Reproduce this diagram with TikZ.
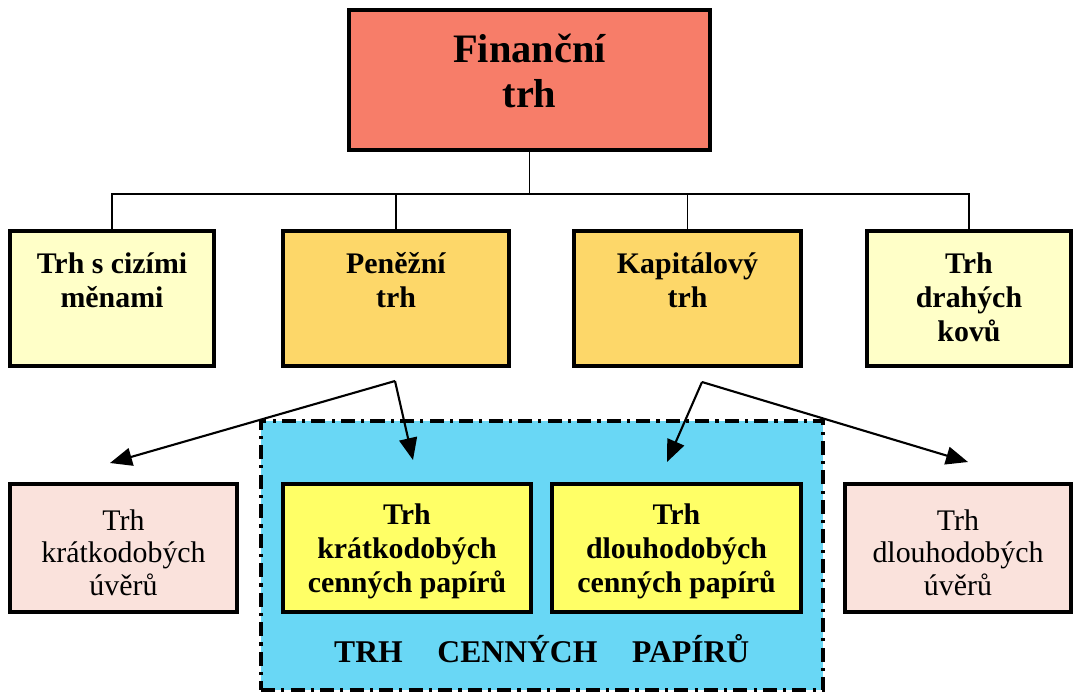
\documentclass[tikz,border=0pt]{standalone}
\usepackage{fontspec}
\setmainfont{Liberation Serif}
\usetikzlibrary{positioning, arrows.meta, calc}

\definecolor{finred}{RGB}{247,125,105}
\definecolor{paleyel}{RGB}{255,255,200}
\definecolor{goldyel}{RGB}{253,215,105}
\definecolor{lemon}{RGB}{255,255,102}
\definecolor{rosepink}{RGB}{250,226,220}
\definecolor{cpblue}{RGB}{105,215,245}

% lines of a box, first baseline on top
\newcommand{\boxlines}[1]{\begin{tabular}[t]{@{}c@{}}#1\end{tabular}}

\begin{document}
\begin{tikzpicture}[
        topbox/.style={rectangle, draw=black, line width=2.2pt, outer sep=0pt, inner sep=0pt, fill=finred, minimum width=7.22cm, font=\fontsize{23}{26}\selectfont\bfseries, text height=1.04cm, text depth=1.76cm},
        midbox/.style={rectangle, draw=black, line width=2.2pt, outer sep=0pt, inner sep=0pt, font=\fontsize{17}{19.5}\selectfont\bfseries, text height=0.84cm, text depth=1.86cm},
        uvbox/.style={rectangle, draw=black, line width=2.2pt, outer sep=0pt, inner sep=0pt, fill=rosepink, font=\fontsize{17}{18.5}\selectfont, text height=0.92cm, text depth=1.64cm},
        cpnbox/.style={rectangle, draw=black, line width=2.2pt, outer sep=0pt, inner sep=0pt, fill=lemon, font=\fontsize{17}{19.4}\selectfont\bfseries, text height=0.8cm, text depth=1.76cm},
        cparea/.style={rectangle, draw=black, line width=1.8pt, fill=cpblue, dash pattern=on 8pt off 3.5pt on 1.8pt off 3.5pt, inner sep=0pt},
        conn/.style={line width=0.7pt},
        arr/.style={-{Triangle[length=0.44cm, width=0.36cm]}, line width=1.2pt},
    ]
        \useasboundingbox (0,0) rectangle (21.64,-13.9);

        % Securities market area (drawn first, behind its boxes)
        \node[cparea, minimum width=11.24cm, minimum height=5.38cm] (cp) at (10.84,-11.11) {};

        % Top level
        \node[topbox] (fin) at (10.59,-1.6) {\boxlines{Finanční\\trh}};

        % Second level
        \node[midbox, minimum width=4.08cm, fill=paleyel] (cizi) at (2.24,-5.97) {\boxlines{Trh s cizími\\měnami}};
        \node[midbox, minimum width=4.52cm, fill=goldyel, right=1.38cm of cizi] (penez) {\boxlines{Peněžní\\trh}};
        \node[midbox, minimum width=4.54cm, fill=goldyel, right=1.30cm of penez] (kapit) {\boxlines{Kapitálový\\trh}};
        \node[midbox, minimum width=4.08cm, fill=paleyel, right=1.32cm of kapit] (kovy) {\boxlines{Trh\\drahých\\kovů}};

        % Third level
        \node[uvbox, minimum width=4.54cm] (kratuv) at (2.47,-10.96) {\boxlines{Trh\\krátkodobých\\úvěrů}};
        \node[cpnbox, minimum width=4.96cm, right=0.92cm of kratuv] (kratcp) {\boxlines{Trh\\krátkodobých\\cenných papírů}};
        \node[cpnbox, minimum width=4.98cm, right=0.42cm of kratcp] (dlouhcp) {\boxlines{Trh\\dlouhodobých\\cenných papírů}};
        \node[uvbox, minimum width=4.52cm, right=0.88cm of dlouhcp] (dlouhuv) {\boxlines{Trh\\dlouhodobých\\úvěrů}};

        % Area title
        \node[font=\fontsize{18}{21}\selectfont\bfseries, inner sep=0pt] (cptit) at ($(kratcp.south)!0.5!(dlouhcp.south)+(0,-0.74)$) {TRH\hspace{1.1em}CENNÝCH\hspace{1.1em}PAPÍRŮ};

        % Tree connectors
        \coordinate[below=0.88cm of fin.south] (bus);
        \draw[conn] (fin.south) -- (bus);
        \draw[conn] (bus) -| (cizi.north);
        \draw[conn] (bus) -| (penez.north);
        \draw[conn] (bus) -| (kapit.north);
        \draw[conn] (bus) -| (kovy.north);

        % Split arrows
        \coordinate (fork1) at ($(penez.south)+(-0.02,-0.3)$);
        \coordinate (fork2) at ($(kapit.south)+(0.29,-0.32)$);
        \coordinate (kratuvend) at ($(kratuv.north)+(-0.27,0.42)$);
        \coordinate (kratcpend) at ($(kratcp.north)+(0.12,0.48)$);
        \coordinate (dlouhcpend) at ($(dlouhcp.north)+(-0.19,0.44)$);
        \coordinate (dlouhuvend) at ($(dlouhuv.north)+(0.2,0.44)$);
        \draw[arr] (fork1) -- (kratuvend);
        \draw[arr] (fork1) -- (kratcpend);
        \draw[arr] (fork2) -- (dlouhcpend);
        \draw[arr] (fork2) -- (dlouhuvend);
    \end{tikzpicture}
\end{document}
